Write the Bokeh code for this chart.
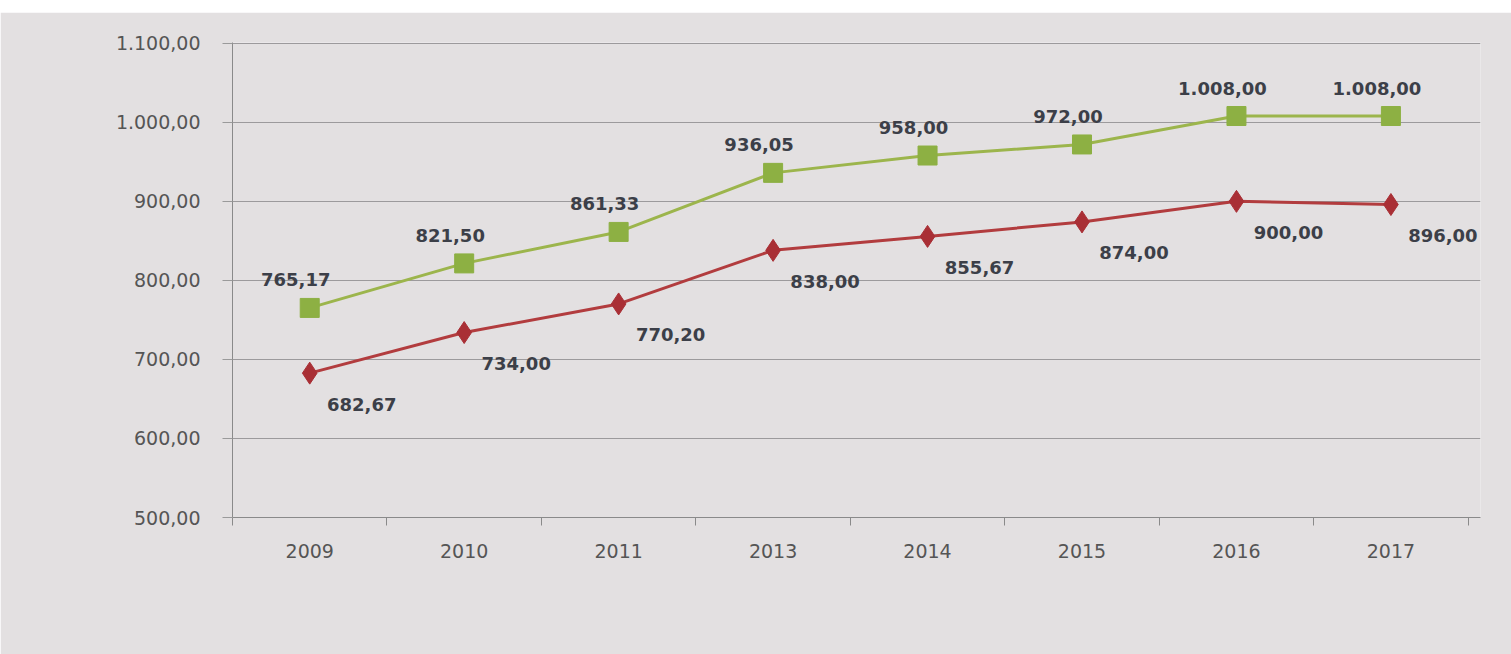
from bokeh.plotting import figure
from bokeh.models import ColumnDataSource, FixedTicker, Range1d, Spacer, LabelSet
from bokeh.layouts import column
from bokeh.core.properties import value
from bokeh.embed import file_html
from bokeh.resources import INLINE

# ---- data ----
years = ["2009", "2010", "2011", "2013", "2014", "2015", "2016", "2017"]
green_values = [765.17, 821.50, 861.33, 936.05, 958.00, 972.00, 1008.00, 1008.00]
red_values = [682.67, 734.00, 770.20, 838.00, 855.67, 874.00, 900.00, 896.00]
y_ticks = [500, 600, 700, 800, 900, 1000, 1100]
y_tick_labels = ["500,00", "600,00", "700,00", "800,00", "900,00", "1.000,00", "1.100,00"]


def fmt(v):
    s = f"{v:,.2f}"
    return s.replace(",", "X").replace(".", ",").replace("X", ".")


xs = list(range(len(years)))
src = ColumnDataSource(dict(
    x=xs,
    green=green_values,
    red=red_values,
    green_lbl=[fmt(v) for v in green_values],
    red_lbl=[fmt(v) for v in red_values],
))

BG = "#e3e0e1"
FONT = value("DejaVu Sans")

p = figure(width=1511, height=642, output_backend="svg", toolbar_location=None,
           x_range=Range1d(-0.5, 7.58), y_range=Range1d(500, 1101),
           min_border_left=232, min_border_right=31, min_border_top=30, min_border_bottom=137)
p.background_fill_color = BG
p.border_fill_color = BG
p.outline_line_color = None

# axes
p.xaxis.ticker = FixedTicker(ticks=xs, minor_ticks=[i + 0.5 for i in range(-1, len(years))])
p.xaxis.major_label_overrides = {i: y for i, y in enumerate(years)}
p.xaxis.major_tick_out = 0
p.xaxis.major_tick_in = 0
p.xaxis.minor_tick_out = 8
p.xaxis.minor_tick_in = 0
p.xaxis.minor_tick_line_color = "#8a8a8a"
p.xaxis.major_label_standoff = 18
p.xaxis.axis_line_color = "#8a8a8a"

p.yaxis.ticker = FixedTicker(ticks=y_ticks, minor_ticks=[])
p.yaxis.major_label_overrides = {t: l for t, l in zip(y_ticks, y_tick_labels)}
p.yaxis.major_tick_out = 10
p.yaxis.major_tick_in = 0
p.yaxis.major_tick_line_color = "#9a9a9a"
p.yaxis.major_label_standoff = 22
p.yaxis.axis_line_color = "#8a8a8a"

for ax in (p.xaxis, p.yaxis):
    ax.major_label_text_font = "DejaVu Sans"
    ax.major_label_text_font_size = "19px"
    ax.major_label_text_color = "#555555"

p.xgrid.grid_line_color = None
p.ygrid.grid_line_color = "#9c9a9c"
p.ygrid.grid_line_width = 1

# series
p.line("x", "green", source=src, line_color="#9cb54c", line_width=3)
p.scatter("x", "green", source=src, marker="square", size=19,
          fill_color="#8db043", line_color="#8db043")
p.line("x", "red", source=src, line_color="#b23c3e", line_width=3)
p.scatter("x", "red", source=src, marker="diamond", size=22,
          fill_color="#a92f35", line_color="#a92f35")

# data labels
p.add_layout(LabelSet(x="x", y="green", text="green_lbl", source=src,
                      x_offset=-14, y_offset=28,
                      text_align="center", text_baseline="middle",
                      text_font=FONT, text_font_size="18px",
                      text_font_style="bold", text_color="#3c3f48"))
p.add_layout(LabelSet(x="x", y="red", text="red_lbl", source=src,
                      x_offset=52, y_offset=-31,
                      text_align="center", text_baseline="middle",
                      text_font=FONT, text_font_size="18px",
                      text_font_style="bold", text_color="#3c3f48"))

layout = column(Spacer(width=1511, height=12), p, spacing=0)
open("out.html", "w").write(file_html(layout, INLINE))
